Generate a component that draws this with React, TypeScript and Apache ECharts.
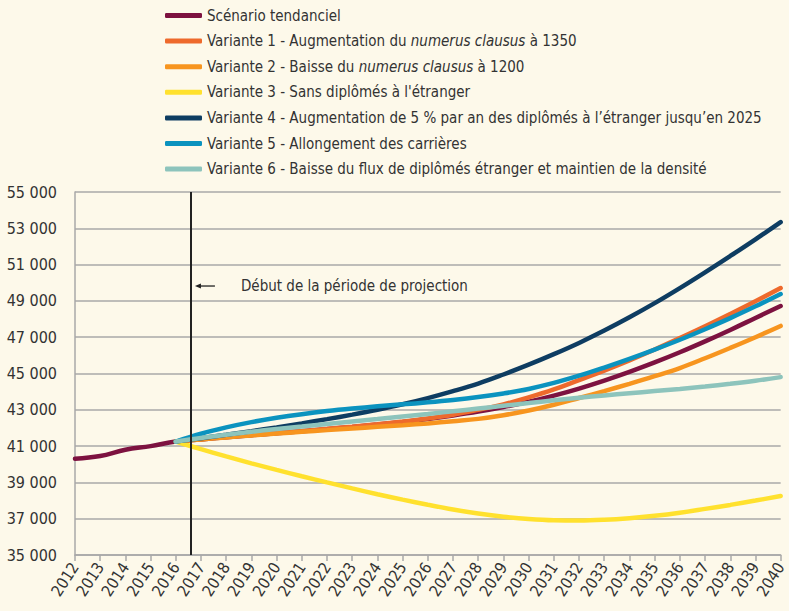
import React, { useEffect, useRef } from "react";
import * as echarts from "echarts";

const years = [2012, 2013, 2014, 2015, 2016, 2017, 2018, 2019, 2020, 2021, 2022, 2023, 2024, 2025, 2026, 2027, 2028, 2029, 2030, 2031, 2032, 2033, 2034, 2035, 2036, 2037, 2038, 2039, 2040];

const tendanciel = [40300, 40450, 40800, 41000, 41250, 41370, 41490, 41600, 41710, 41820, 41935, 42055, 42185, 42330, 42495, 42685, 42900, 43150, 43440, 43780, 44170, 44610, 45090, 45610, 46170, 46770, 47400, 48060, 48720];
// variants start in 2016
const variante1 = [41250, 41380, 41500, 41615, 41725, 41835, 41950, 42070, 42200, 42350, 42520, 42730, 43000, 43300, 43680, 44120, 44640, 45160, 45720, 46320, 46950, 47600, 48280, 48980, 49710];
const variante2 = [41250, 41370, 41480, 41590, 41690, 41790, 41880, 41970, 42060, 42150, 42250, 42370, 42500, 42700, 42960, 43280, 43650, 44030, 44430, 44850, 45300, 45840, 46410, 47000, 47620];
const variante3 = [41250, 40830, 40430, 40050, 39690, 39340, 39000, 38670, 38350, 38050, 37770, 37510, 37290, 37110, 36980, 36910, 36900, 36940, 37030, 37160, 37330, 37540, 37760, 38000, 38250];
const variante4 = [41250, 41430, 41620, 41820, 42030, 42250, 42485, 42735, 43005, 43305, 43645, 44025, 44445, 44945, 45485, 46065, 46685, 47365, 48095, 48875, 49705, 50575, 51475, 52395, 53345];
const variante5 = [41250, 41680, 42030, 42320, 42560, 42760, 42930, 43070, 43190, 43300, 43410, 43540, 43700, 43900, 44150, 44480, 44880, 45330, 45810, 46320, 46860, 47440, 48050, 48700, 49380];
const variante6 = [41250, 41450, 41620, 41790, 41940, 42080, 42220, 42360, 42490, 42630, 42770, 42920, 43070, 43220, 43370, 43520, 43660, 43790, 43910, 44030, 44150, 44280, 44430, 44600, 44800];

const seriesNames = [
  "Scénario tendanciel",
  "Variante 1 - Augmentation du numerus clausus à 1350",
  "Variante 2 - Baisse du numerus clausus à 1200",
  "Variante 3 - Sans diplômés à l'étranger",
  "Variante 4 - Augmentation de 5 % par an des diplômés à l’étranger jusqu’en 2025",
  "Variante 5 - Allongement des carrières",
  "Variante 6 - Baisse du flux de diplômés étranger et maintien de la densité",
];
const seriesColors = ["#7D1240", "#EE6A2C", "#F7951F", "#FFE12E", "#0E3D62", "#0B93BF", "#8DC4BC"];
const seriesValues = [tendanciel, variante1, variante2, variante3, variante4, variante5, variante6];

const projectionStart = 2016.6;
const annotationText = "Début de la période de projection";
const yTicks = { min: 35000, max: 55000, interval: 2000 };

const FONT = "'Liberation Sans Narrow', 'DejaVu Sans Condensed', 'Roboto', sans-serif";
const TEXT = "#333333";

export default function App() {
  const ref = useRef<HTMLDivElement>(null);
  useEffect(() => {
    if (!ref.current) return;
    const chart = echarts.init(ref.current, undefined, { renderer: "svg" });
    const series = seriesValues.map((vals, i) => {
      const offset = years.length - vals.length;
      return {
        name: seriesNames[i],
        type: "line",
        smooth: 0.4,
        showSymbol: false,
        symbol: "none",
        data: vals.map((v, j) => [years[j + offset], v]),
        lineStyle: { color: seriesColors[i], width: 4.5, cap: "round" },
        itemStyle: { color: seriesColors[i] },
        z: 3,
        ...(i === 0
          ? {
              markLine: {
                silent: true,
                symbol: "none",
                label: { show: false },
                lineStyle: { color: "#222", width: 2, type: "solid" },
                data: [{ xAxis: projectionStart }],
                z: 5,
              },
            }
          : {}),
      };
    });
    const legendFormatter = (name: string) => {
      const m = name.match(/^(.*)numerus clausus(.*)$/);
      if (m) return `{a|${m[1]}}{i|numerus clausus}{a|${m[2]}}`;
      return `{a|${name}}`;
    };
    chart.setOption({
      animation: false,
      backgroundColor: "#FDF9EA",
      textStyle: { fontFamily: FONT },
      grid: { left: 75, right: 6, top: 192, bottom: 56 },
      legend: {
        orient: "vertical",
        left: 160,
        top: 3,
        itemWidth: 37,
        itemHeight: 5,
        itemGap: 10.6,
        icon: "roundRect",
        data: seriesNames,
        formatter: legendFormatter,
        textStyle: {
          fontFamily: FONT,
          fontSize: 15,
          color: TEXT,
          padding: [0, 0, 0, 0],
          rich: {
            a: { fontFamily: FONT, fontSize: 15, color: TEXT, lineHeight: 17 },
            i: { fontFamily: FONT, fontSize: 15, color: TEXT, fontStyle: "italic", lineHeight: 17 },
          },
        },
      },
      xAxis: {
        type: "value",
        min: years[0],
        max: years[years.length - 1],
        interval: 1,
        axisLine: { show: true, lineStyle: { color: "#A8A8A8", width: 1.5 } },
        axisTick: { show: true, length: 6, lineStyle: { color: "#A8A8A8", width: 1.5 } },
        splitLine: { show: false },
        axisLabel: {
          rotate: 57,
          margin: 9,
          fontFamily: FONT,
          fontSize: 16,
          color: TEXT,
          formatter: (v: number) => String(v),
        },
      },
      yAxis: {
        type: "value",
        min: yTicks.min,
        max: yTicks.max,
        interval: yTicks.interval,
        axisLine: { show: true, lineStyle: { color: "#A8A8A8", width: 1.5 } },
        axisTick: { show: false },
        splitLine: { show: true, lineStyle: { color: "#A8A8A8", width: 1.5 } },
        axisLabel: {
          margin: 18,
          fontFamily: FONT,
          fontSize: 16,
          color: TEXT,
          formatter: (v: number) => `${Math.round(v / 1000)} 000`,
        },
      },
      series,
    });
    const p = chart.convertToPixel({ xAxisIndex: 0, yAxisIndex: 0 }, [projectionStart, 49820]) as number[];
    const lx = p[0];
    const ly = p[1];
    chart.setOption({
      graphic: [
        {
          type: "line",
          shape: { x1: lx + 8, y1: ly, x2: lx + 24, y2: ly },
          style: { stroke: "#222", lineWidth: 1.3 },
          z: 10,
        },
        {
          type: "polygon",
          shape: { points: [[lx + 4, ly], [lx + 10, ly - 2.5], [lx + 10, ly + 2.5]] },
          style: { fill: "#222" },
          z: 10,
        },
        {
          type: "text",
          x: lx + 50,
          y: ly,
          style: {
            text: annotationText,
            fontFamily: FONT,
            fontSize: 15,
            fill: TEXT,
            verticalAlign: "middle",
            align: "left",
          },
          z: 10,
        },
      ],
    });
    return () => chart.dispose();
  }, []);
  return (
    <div
      ref={ref}
      style={{ position: "fixed", left: 0, top: 0, width: 789, height: 611, background: "#FDF9EA" }}
    />
  );
}
